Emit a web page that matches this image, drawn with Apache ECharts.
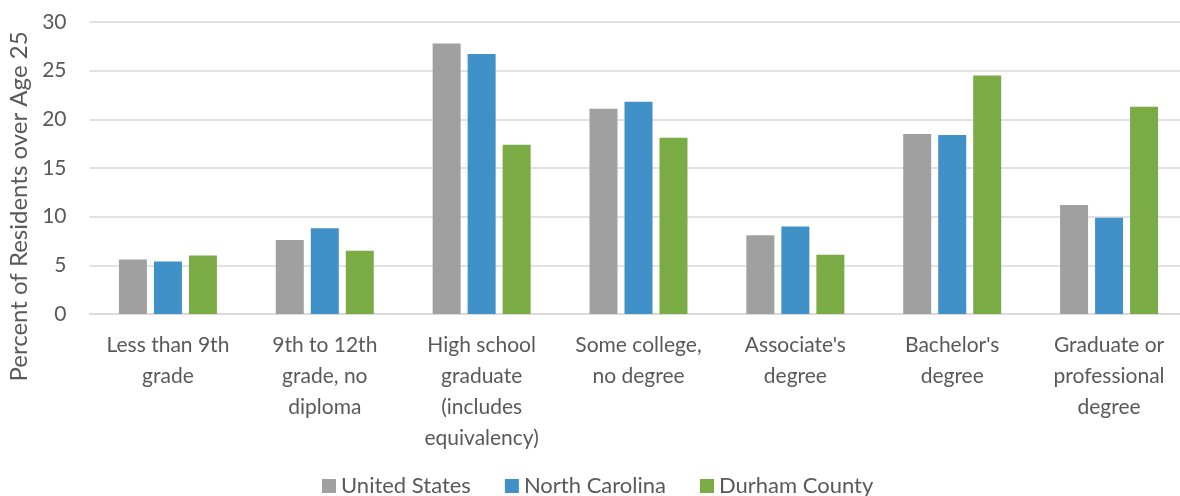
<!DOCTYPE html>
<html>
<head>
<meta charset="utf-8">
<script src="https://cdn.jsdelivr.net/npm/echarts@6/dist/echarts.min.js"></script>
<style>
  html, body { margin: 0; padding: 0; background: #fff; }
  #chart { width: 1180px; height: 496px; }
</style>
</head>
<body>
<div id="chart"></div>
<script>
const categories = [
  "Less than 9th\ngrade",
  "9th to 12th\ngrade, no\ndiploma",
  "High school\ngraduate\n(includes\nequivalency)",
  "Some college,\nno degree",
  "Associate's\ndegree",
  "Bachelor's\ndegree",
  "Graduate or\nprofessional\ndegree"
];
const seriesNames = ["United States", "North Carolina", "Durham County"];
const unitedStates = [5.6, 7.6, 27.8, 21.1, 8.1, 18.5, 11.2];
const northCarolina = [5.4, 8.8, 26.7, 21.8, 9.0, 18.4, 9.9];
const durhamCounty = [6.0, 6.5, 17.4, 18.1, 6.1, 24.5, 21.3];
const yTicks = { min: 0, max: 30, interval: 5 };
const colors = ["#A0A0A0", "#4091C8", "#7BAB44"];

const FONT = "Lato";
const chart = echarts.init(document.getElementById('chart'), null, { renderer: 'canvas' });
const values = [unitedStates, northCarolina, durhamCounty];
chart.setOption({
  animation: false,
  backgroundColor: '#ffffff',
  textStyle: { fontFamily: FONT },
  grid: { left: 89.5, width: 1098, top: 22, bottom: 182, containLabel: false, outerBoundsMode: 'none' },
  legend: {
    data: seriesNames,
    top: 470,
    left: 317,
    itemWidth: 14,
    itemHeight: 14,
    itemGap: 34,
    icon: 'rect',
    textStyle: { fontFamily: FONT, fontSize: 22, color: '#595959' }
  },
  xAxis: {
    type: 'category',
    data: categories,
    axisLine: { show: true, lineStyle: { color: '#d9d9d9', width: 1.5 } },
    axisTick: { show: false },
    axisLabel: {
      interval: 0,
      margin: 16,
      fontFamily: FONT,
      fontSize: 21,
      lineHeight: 31,
      color: '#595959',
      align: 'center'
    }
  },
  yAxis: {
    type: 'value',
    min: yTicks.min,
    max: yTicks.max,
    interval: yTicks.interval,
    name: 'Percent of Residents over Age 25',
    nameLocation: 'middle',
    nameGap: 55,
    nameTextStyle: { fontFamily: FONT, fontSize: 24, color: '#595959', padding: [0, 77, 0, 0] },
    axisLine: { show: false },
    axisTick: { show: false },
    axisLabel: { margin: 23, fontFamily: FONT, fontSize: 21, color: '#595959' },
    splitLine: { lineStyle: { color: '#d9d9d9', width: 1.5 } }
  },
  series: seriesNames.map((n, i) => ({
    name: n,
    type: 'bar',
    data: values[i],
    barWidth: 28,
    barGap: '25%',
    itemStyle: { color: colors[i] }
  }))
});
</script>
</body>
</html>
